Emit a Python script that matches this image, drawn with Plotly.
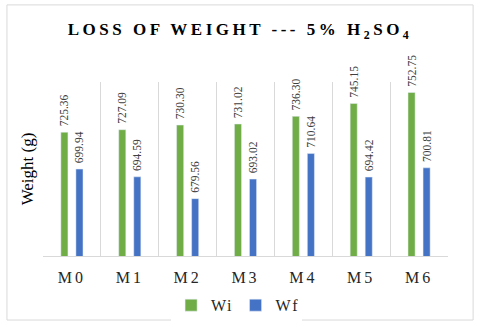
import plotly.graph_objects as go

categories = ["M0", "M1", "M2", "M3", "M4", "M5", "M6"]
wi = [725.36, 727.09, 730.30, 731.02, 736.30, 745.15, 752.75]
wf = [699.94, 694.59, 679.56, 693.02, 710.64, 694.42, 700.81]

GREEN = "#70ad47"
BLUE = "#4472c4"
GRID = "#d9d9d9"
SERIF = "Liberation Serif"

fig = go.Figure()
for name, vals, color in [("Wi", wi, GREEN), ("Wf", wf, BLUE)]:
    fig.add_trace(go.Bar(
        x=categories, y=vals, name=name, marker=dict(color=color),
        text=[f"\u00a0{v:.2f}" for v in vals], textposition="outside",
        textangle=-90, constraintext="none", cliponaxis=False,
        textfont=dict(family=SERIF, size=11.5, color="#404040"),
    ))

fig.update_layout(
    width=480, height=327,
    margin=dict(l=43, r=32, t=82, b=71, autoexpand=False),
    paper_bgcolor="white", plot_bgcolor="white",
    barmode="group", bargap=0.48, bargroupgap=0.53,
    title=dict(text="<b>LOSS OF WEIGHT --- 5% H<sub>2</sub>SO<sub>4</sub></b>",
               x=0.5, xanchor="center", y=0.91, yanchor="middle",
               font=dict(family=SERIF, size=17, color="#000000")),
    font=dict(family=SERIF, color="#404040"),
    xaxis=dict(tickson="boundaries", showgrid=True, gridcolor=GRID, gridwidth=1,
               showline=True, linecolor=GRID, ticks="", ticklabelstandoff=7,
               automargin=False,
               tickfont=dict(family=SERIF, size=16, color="#262626")),
    yaxis=dict(range=[640, 760], showgrid=False, showticklabels=False, zeroline=False,
               automargin=False,
               title=dict(text="Weight (g)", font=dict(family=SERIF, size=17, color="#000000"),
                          standoff=4)),
    legend=dict(orientation="h", x=0.478, xanchor="center", y=-0.283, yanchor="middle",
                font=dict(family=SERIF, size=16, color="#262626"), itemwidth=30),
    showlegend=True,
    shapes=[dict(type="rect", xref="paper", yref="paper", x0=-0.089, x1=1.062,
                 y0=-0.368, y1=1.443, line=dict(color=GRID, width=1), layer="below")],
)

# page margin off, and the wide character spacing of the original
page_js = """
document.body.style.margin='0';
document.querySelectorAll('.gtitle').forEach(function(t){t.style.letterSpacing='3.5px';});
document.querySelectorAll('.xtick text').forEach(function(t){t.style.letterSpacing='3px';});
document.querySelectorAll('.legendtext').forEach(function(t){t.style.letterSpacing='1.5px';});
"""

fig.write_html("out.html", post_script=page_js, config={"displayModeBar": False})
